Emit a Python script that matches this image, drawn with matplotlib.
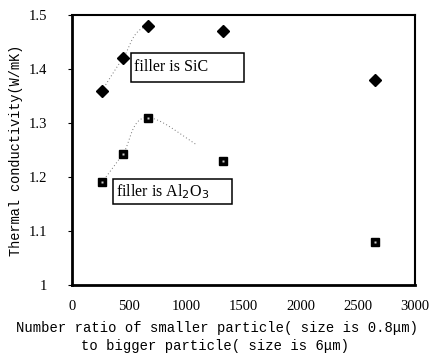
import numpy as np
import matplotlib
matplotlib.use("Agg")
import matplotlib.pyplot as plt
from matplotlib.patches import Rectangle

ratio = [262, 446, 665, 1320, 2650]
sic = [1.36, 1.42, 1.48, 1.47, 1.38]
al2o3 = [1.19, 1.243, 1.31, 1.23, 1.08]
yticks = [1.0, 1.1, 1.2, 1.3, 1.4, 1.5]
ytick_labels = ["1", "1.1", "1.2", "1.3", "1.4", "1.5"]
xticks = [0, 500, 1000, 1500, 2000, 2500, 3000]


def smooth(x, y, n=30):
    """Catmull-Rom smoothed line through the points (like a spreadsheet smoothed line)."""
    x = np.asarray(x, float); y = np.asarray(y, float)
    px = np.concatenate([[2*x[0]-x[1]], x, [2*x[-1]-x[-2]]])
    py = np.concatenate([[2*y[0]-y[1]], y, [2*y[-1]-y[-2]]])
    outx, outy = [], []
    t = np.linspace(0, 1, n)
    for i in range(1, len(px) - 2):
        for arr, out in ((px, outx), (py, outy)):
            p0, p1, p2, p3 = arr[i-1], arr[i], arr[i+1], arr[i+2]
            out.extend(0.5*((2*p1) + (-p0+p2)*t + (2*p0-5*p1+4*p2-p3)*t**2 + (-p0+3*p1-3*p2+p3)*t**3))
    return np.array(outx), np.array(outy)


fig = plt.figure(figsize=(4.33, 3.62), dpi=100)
ax = fig.add_axes([72/433, 1-285/362, 343/433, 270/362])

# faint smoothed connecting curves (only partly visible in the scan)
sx, sy = smooth(ratio, sic)
m = sx <= ratio[2]
ax.plot(sx[m], sy[m], ls=(0, (1, 2.5)), color="0.45", lw=0.7)
axx, ayy = smooth(ratio, al2o3)
m = axx <= 1085
ax.plot(axx[m], ayy[m], ls=(0, (1, 2.5)), color="0.45", lw=0.7)

ax.plot(ratio, sic, ls="none", marker="D", ms=6, color="black")
ax.plot(ratio, al2o3, ls="none", marker="s", ms=6, color="black")
ax.plot(ratio, al2o3, ls="none", marker="s", ms=1.5, color="0.8", mec="none")

ax.set_xlim(0, 3000)
ax.set_ylim(1.0, 1.5)
ax.set_xticks(xticks)
ax.set_xticklabels([str(v) for v in xticks], fontfamily="Liberation Serif", fontsize=10.5)
ax.set_yticks(yticks)
ax.set_yticklabels(ytick_labels, fontfamily="Liberation Serif", fontsize=10.5)
ax.tick_params(axis="x", length=0, pad=11)
ax.tick_params(axis="y", length=3, width=0.8, pad=15, direction="out")
for side in ["left", "bottom"]:
    ax.spines[side].set_linewidth(2.0)
for side in ["right", "top"]:
    ax.spines[side].set_linewidth(1.5)

# annotation boxes (pixel geometry of the reference, in figure coords)
def fbox(x0, y0, x1, y1):
    fig.add_artist(Rectangle((x0/433, 1-y1/362), (x1-x0)/433, (y1-y0)/362,
                             transform=fig.transFigure, fc="white", ec="black", lw=1.1, zorder=5))

fbox(131, 53, 244, 82)
fig.text(134/433, 1-67/362, "filler is SiC", fontsize=11.5, fontfamily="Liberation Serif",
         va="center", ha="left", zorder=6)
fbox(113, 179, 232, 204)
fig.text(116/433, 1-192/362, "filler is Al$_2$O$_3$", fontsize=11.5, fontfamily="Liberation Serif",
         va="center", ha="left", zorder=6)

ax.set_ylabel("Thermal conductivity(W/mK)", fontfamily="Liberation Mono", fontsize=9.8, labelpad=4)
fig.text(217/433, 1-328/362, "Number ratio of smaller particle( size is 0.8\u03bcm)",
         ha="center", va="center", fontfamily="Liberation Mono", fontsize=10)
fig.text(215/433, 1-346/362, "to bigger particle( size is 6\u03bcm)",
         ha="center", va="center", fontfamily="Liberation Mono", fontsize=10)

fig.savefig("out.png", dpi=100)
